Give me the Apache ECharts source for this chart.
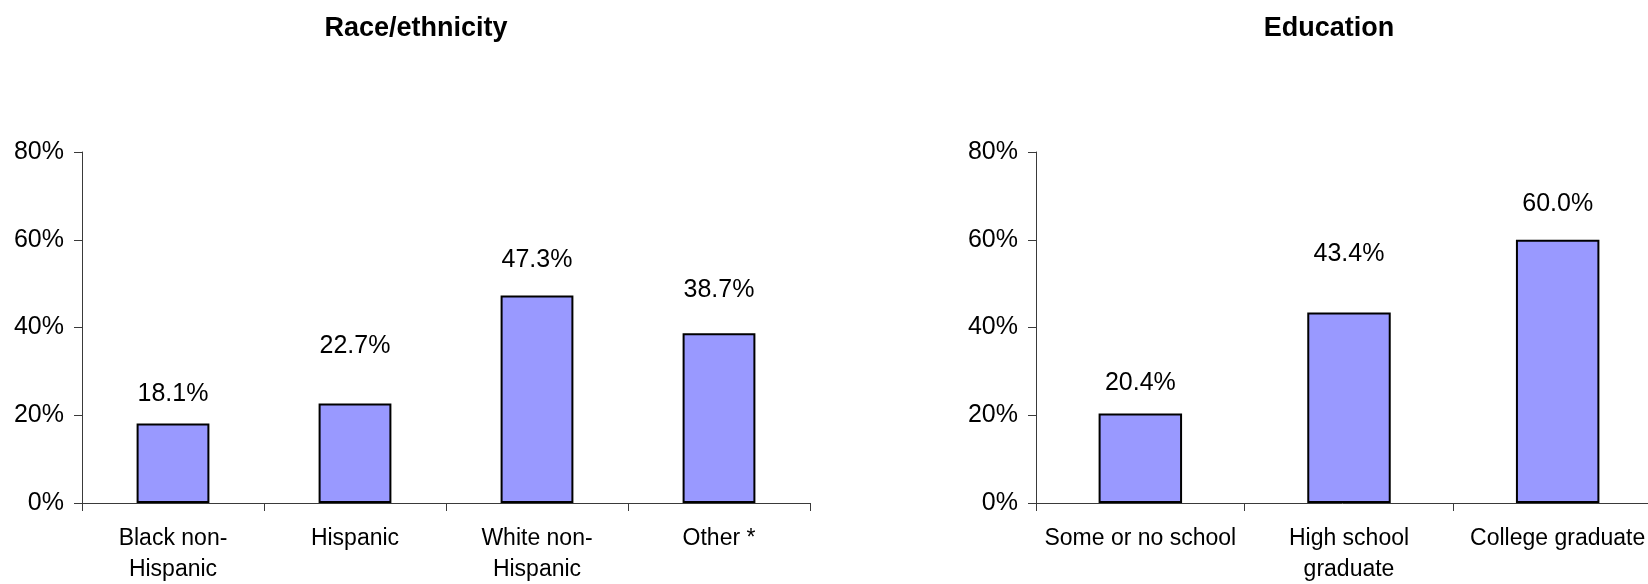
<!DOCTYPE html>
<html>
<head>
<meta charset="utf-8">
<script src="https://cdn.jsdelivr.net/npm/echarts@6/dist/echarts.min.js"></script>
<style>
html,body{margin:0;padding:0;background:#fff;}
#c{width:1648px;height:584px;}
</style>
</head>
<body>
<div id="c"></div>
<script>
// ---- data ----
var raceTitle = 'Race/ethnicity';
var raceCategories = ['Black non-\nHispanic', 'Hispanic', 'White non-\nHispanic', 'Other *'];
var raceValues = [18.1, 22.7, 47.3, 38.7];

var eduTitle = 'Education';
var eduCategories = ['Some or no school', 'High school\ngraduate', 'College graduate'];
var eduValues = [20.4, 43.4, 60.0];

var yTicks = [0, 20, 40, 60, 80];

// ---- style (label offsets above bars, as in the reference) ----
var raceLabelGap = [17, 45, 23, 31];
var eduLabelGap = [18, 46, 23];

var FONT = '"Liberation Sans", Arial, sans-serif';
var AXIS_COLOR = '#3a3a3a';

function items(values, gaps) {
  return values.map(function (v, i) {
    return { value: v, label: { distance: gaps[i] } };
  });
}

function yAxis(idx) {
  return {
    type: 'value', gridIndex: idx,
    min: yTicks[0], max: yTicks[yTicks.length - 1], interval: yTicks[1] - yTicks[0],
    axisLine: { show: true, lineStyle: { color: AXIS_COLOR, width: 1 } },
    axisTick: { show: true, length: 8, lineStyle: { color: AXIS_COLOR } },
    splitLine: { show: false },
    axisLabel: { formatter: '{value}%', color: '#000', fontFamily: FONT, fontSize: 25, margin: 18 }
  };
}

function xAxis(idx, cats) {
  return {
    type: 'category', gridIndex: idx, data: cats,
    axisLine: { show: true, lineStyle: { color: AXIS_COLOR, width: 1 } },
    axisTick: { show: true, length: 8, alignWithLabel: false, interval: 0, lineStyle: { color: AXIS_COLOR } },
    axisLabel: { interval: 0, color: '#000', fontFamily: FONT, fontSize: 23, lineHeight: 31, margin: 20 }
  };
}

function bars(idx, values, gaps) {
  return {
    type: 'bar', xAxisIndex: idx, yAxisIndex: idx,
    data: items(values, gaps),
    barWidth: '40%',
    itemStyle: { color: '#9999ff', borderColor: '#000', borderWidth: 2 },
    label: {
      show: true, position: 'top', color: '#000', fontFamily: FONT, fontSize: 25,
      formatter: function (p) { return p.value.toFixed(1) + '%'; }
    },
    animation: false
  };
}

var chart = echarts.init(document.getElementById('c'), null, { renderer: 'canvas' });
chart.setOption({
  animation: false,
  backgroundColor: '#fff',
  title: [
    { text: raceTitle, left: 411, top: 10, textAlign: 'center',
      textStyle: { fontFamily: FONT, fontSize: 27, fontWeight: 'bold', color: '#000' } },
    { text: eduTitle, left: 1324, top: 10, textAlign: 'center',
      textStyle: { fontFamily: FONT, fontSize: 27, fontWeight: 'bold', color: '#000' } }
  ],
  grid: [
    { left: 82, right: 1648 - 810, top: 152, bottom: 584 - 503, containLabel: false, outerBoundsMode: 'none' },
    { left: 1036, right: -14, top: 152, bottom: 584 - 503, containLabel: false, outerBoundsMode: 'none' }
  ],
  xAxis: [xAxis(0, raceCategories), xAxis(1, eduCategories)],
  yAxis: [yAxis(0), yAxis(1)],
  series: [bars(0, raceValues, raceLabelGap), bars(1, eduValues, eduLabelGap)]
});
</script>
</body>
</html>
